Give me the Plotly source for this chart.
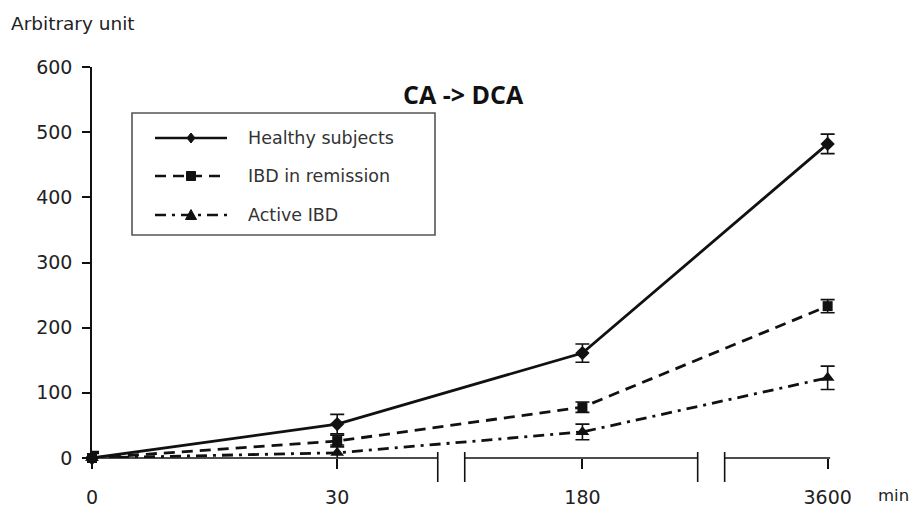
import plotly.graph_objects as go

# ---- data -------------------------------------------------------------
time_labels = ["0", "30", "180", "3600"]

healthy = [0, 52, 161, 482]
healthy_err = [10, 15, 14, 15]

remission = [0, 26, 78, 233]
remission_err = [8, 9, 8, 10]

active = [0, 8, 40, 123]
active_err = [7, 12, 12, 18]

series_names = ["Healthy subjects", "IBD in remission", "Active IBD"]

# ---- geometry helpers ---------------------------------------------------
W, H = 916, 510
ML, MR, MT, MB = 92, 81, 67, 52
PW, PH = W - ML - MR, H - MT - MB


def px_x(px):
    return (px - ML) / PW


def px_y(py):
    return (H - MB - py) / PH


INK = "#111111"
TICK_FONT = dict(family="DejaVu Sans", size=19, color="#222222")

fig = go.Figure()

styles = [
    dict(dash="solid", symbol="diamond", size=11),
    dict(dash="11px,7px", symbol="square", size=10),
    dict(dash="11px,6px,3px,6px", symbol="triangle-up", size=12),
]

for name, vals, errs, st in zip(series_names, [healthy, remission, active],
                                [healthy_err, remission_err, active_err], styles):
    fig.add_trace(go.Scatter(
        x=time_labels, y=vals, name=name, mode="lines+markers",
        line=dict(color=INK, width=2.8, dash=st["dash"]),
        marker=dict(symbol=st["symbol"], size=st["size"], color=INK),
        error_y=dict(type="data", array=errs, visible=True, color=INK,
                     thickness=1.6, width=7),
        cliponaxis=False, showlegend=False,
    ))

shapes = []

# broken x axis: segments with break marks
AXIS_END = 3.01
BREAKS = [(1.41, 1.52), (2.47, 2.58)]
seg_start = 0
for b0, b1 in BREAKS:
    shapes.append(dict(type="line", xref="x", yref="paper", x0=seg_start, x1=b0,
                       y0=0, y1=0, line=dict(color=INK, width=1.6)))
    for bx in (b0, b1):
        shapes.append(dict(type="line", xref="x", yref="paper", x0=bx, x1=bx,
                           y0=px_y(452), y1=px_y(482), line=dict(color=INK, width=1.6)))
    seg_start = b1
shapes.append(dict(type="line", xref="x", yref="paper", x0=seg_start, x1=AXIS_END,
                   y0=0, y1=0, line=dict(color=INK, width=1.6)))

# legend box
shapes.append(dict(type="rect", xref="paper", yref="paper",
                   x0=px_x(132), x1=px_x(435), y0=px_y(235), y1=px_y(113),
                   line=dict(color="#555555", width=1.6), fillcolor="white", layer="above"))

annotations = []
legend_rows = [138, 176, 215]
marker_paths = [
    "M0,5 L4,0 L0,-5 L-4,0 Z",
    "M-4.5,-4.5 L4.5,-4.5 L4.5,4.5 L-4.5,4.5 Z",
    "M-5.5,-4.5 L5.5,-4.5 L0,5.5 Z",
]
for name, row, st, path in zip(series_names, legend_rows, styles, marker_paths):
    yy = px_y(row)
    shapes.append(dict(type="line", xref="paper", yref="paper",
                       x0=px_x(155), x1=px_x(227), y0=yy, y1=yy,
                       line=dict(color=INK, width=2.4, dash=st["dash"]), layer="above"))
    shapes.append(dict(type="path", xref="paper", yref="paper",
                       xsizemode="pixel", ysizemode="pixel",
                       xanchor=px_x(191), yanchor=yy, path=path,
                       fillcolor=INK, line=dict(color=INK, width=1), layer="above"))
    annotations.append(dict(text=name, xref="paper", yref="paper",
                            x=px_x(246), y=yy, xanchor="left", yanchor="middle",
                            showarrow=False,
                            font=dict(family="DejaVu Sans", size=17.5, color="#333333")))

annotations += [
    dict(text="CA -> DCA", xref="paper", yref="paper", x=px_x(463), y=px_y(94),
         xanchor="center", yanchor="middle", showarrow=False,
         font=dict(family="Open Sans", size=25, color="#111111", weight="bold")),
    dict(text="Arbitrary unit", xref="paper", yref="paper", x=px_x(9), y=px_y(23),
         xanchor="left", yanchor="middle", showarrow=False,
         font=dict(family="DejaVu Sans", size=18.5, color="#222222")),
    dict(text="min", xref="paper", yref="paper", x=px_x(876), y=px_y(495),
         xanchor="left", yanchor="middle", showarrow=False,
         font=dict(family="DejaVu Sans", size=16.5, color="#222222")),
]

fig.update_layout(
    width=W, height=H,
    margin=dict(l=ML, r=MR, t=MT, b=MB, pad=0),
    paper_bgcolor="white", plot_bgcolor="white",
    showlegend=False,
    shapes=shapes, annotations=annotations,
    xaxis=dict(type="category", categoryorder="array", categoryarray=time_labels,
               range=[0, 3.03], showline=False, showgrid=False, zeroline=False,
               automargin=False,
               ticks="outside", ticklen=10, tickwidth=1.6, tickcolor=INK,
               tickfont=TICK_FONT, ticklabelstandoff=12),
    yaxis=dict(range=[0, 600], dtick=100, showline=True, linecolor=INK, linewidth=1.6,
               automargin=False,
               showgrid=False, zeroline=False, ticks="outside", ticklen=8,
               tickwidth=1.6, tickcolor=INK, tickfont=TICK_FONT, ticklabelstandoff=6),
)

fig.write_html("out.html")
